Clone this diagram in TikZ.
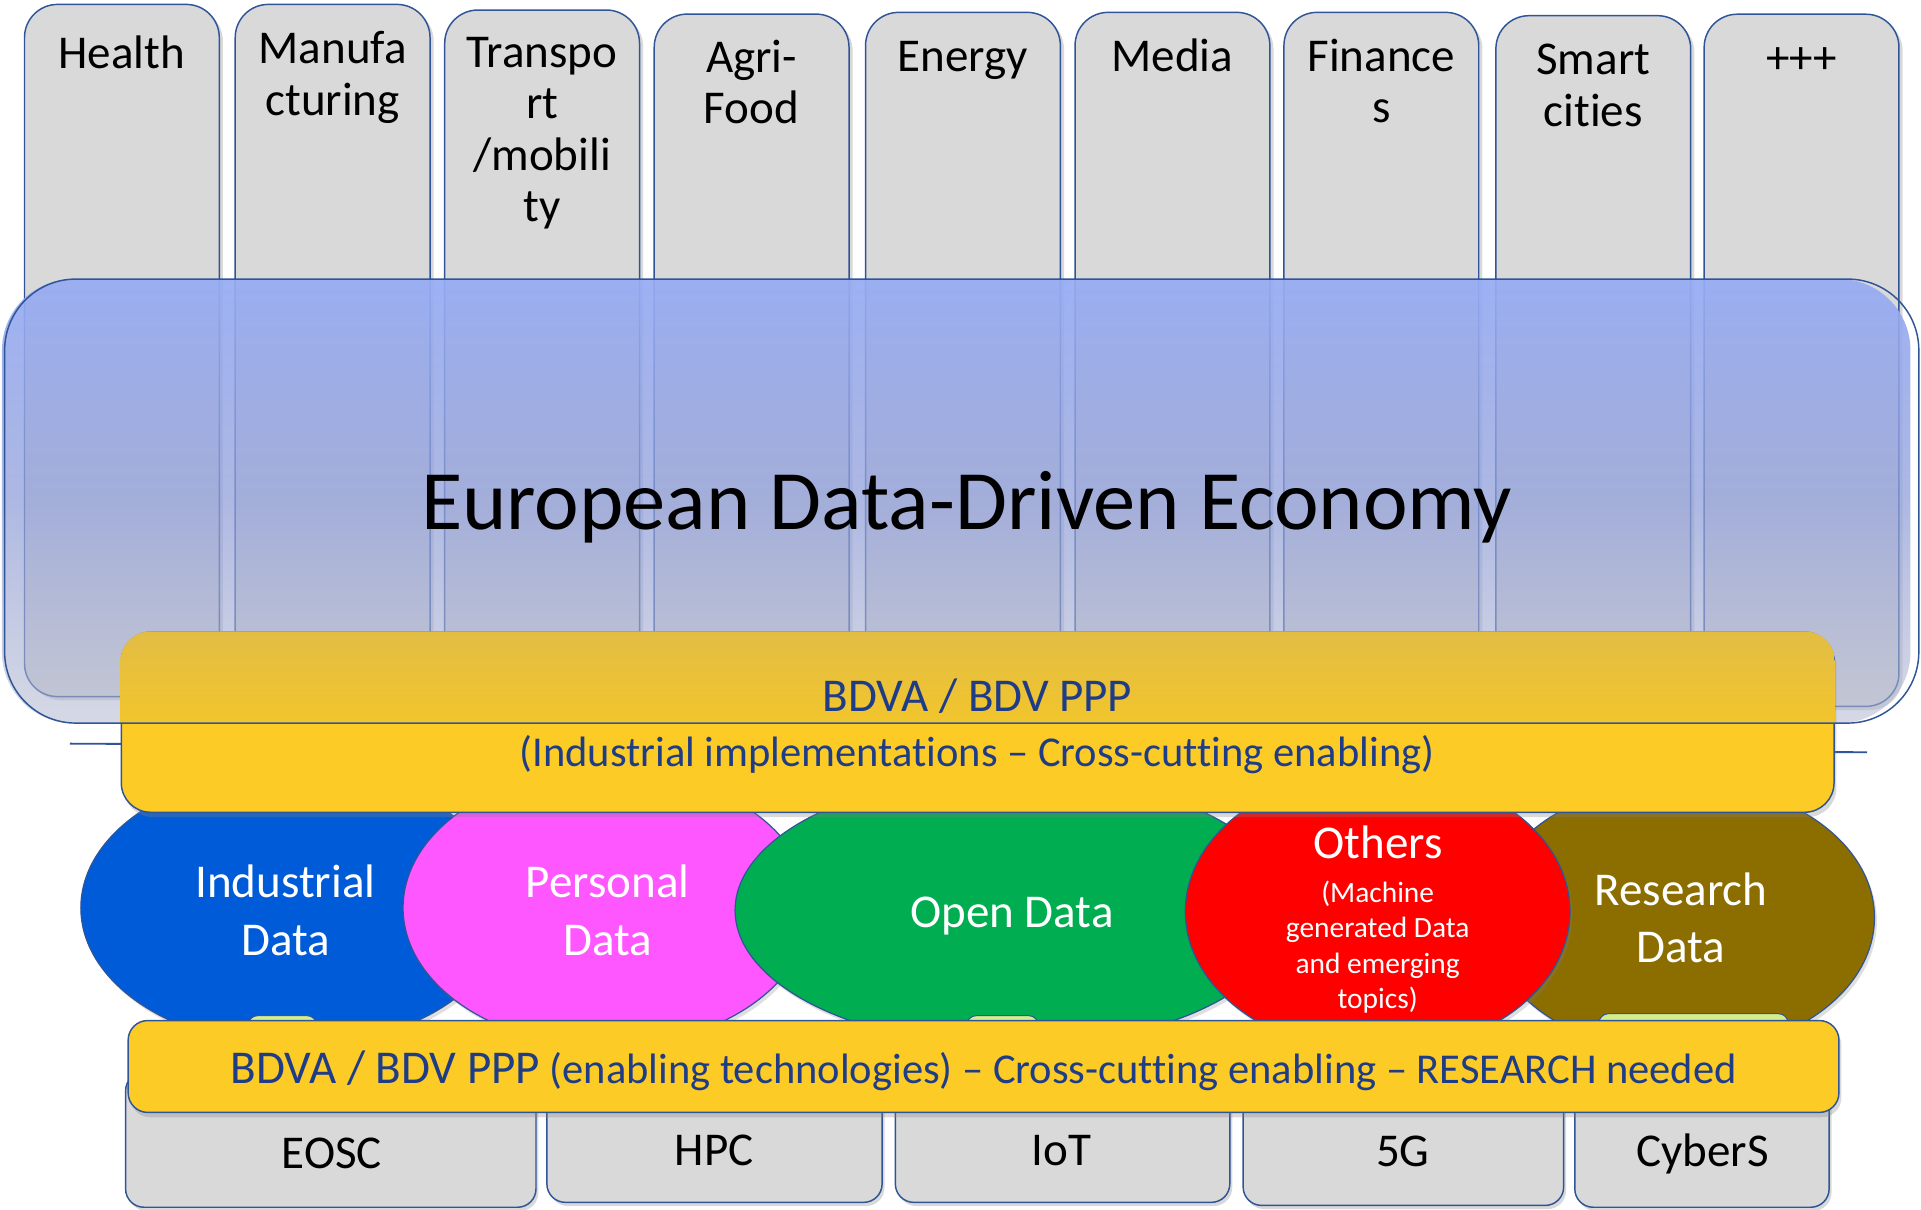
\documentclass[tikz,border=0pt]{standalone}
\usepackage{fontspec}
\setmainfont{Carlito}[Ligatures={TeX,NoCommon}]
\usetikzlibrary{shapes.geometric,shadows,fadings}

\definecolor{edgeblue}{HTML}{2F5597}
\definecolor{sectorgrey}{HTML}{D9D9D9}
\definecolor{ecotop}{HTML}{97ACF3}
\definecolor{ecomid}{HTML}{92A0DA}
\definecolor{ecobot}{HTML}{B4B9CF}
\definecolor{bdvyellow}{HTML}{FCCB26}
\definecolor{bdvtop}{HTML}{E2BD45}
\definecolor{bdvmid}{HTML}{F2C52C}
\definecolor{bdvtext}{HTML}{1F3D87}
\definecolor{industrialblue}{HTML}{005BD9}
\definecolor{personalpink}{HTML}{FF57FF}
\definecolor{opengreen}{HTML}{00AD50}
\definecolor{othersred}{HTML}{FF0000}
\definecolor{researchbrown}{HTML}{8C6D00}
\definecolor{stubgreen}{HTML}{D5EE8C}

\tikzfading[name=ecofade, top color=transparent!5, bottom color=transparent!45]

\begin{document}
\begin{tikzpicture}[x=1pt, y=-1pt,
    sector/.style={draw=edgeblue, line width=1.2pt, fill=sectorgrey, rounded corners=27pt, minimum width=159pt, minimum height=565pt, anchor=north, inner sep=0pt, drop shadow={opacity=0.3, shadow xshift=3pt, shadow yshift=-3pt}},
    sectorlabel/.style={font=\fontsize{38.4}{42}\selectfont, align=center, anchor=base, inner sep=0pt},
    datazone/.style={ellipse, draw=edgeblue, line width=1pt, inner sep=0pt, drop shadow={opacity=0.25, shadow xshift=2pt, shadow yshift=-3pt}},
    zonelabel/.style={text=white, font=\fontsize{38.4}{47}\selectfont, align=center, inner sep=0pt},
    stub/.style={draw=edgeblue, line width=0.8pt, fill=stubgreen, rounded corners=8pt, anchor=north, minimum height=40pt, inner sep=0pt},
    techbox/.style={draw=edgeblue, line width=1.2pt, fill=sectorgrey, rounded corners=15pt, anchor=south, minimum height=110pt, inner sep=0pt, drop shadow={opacity=0.3, shadow xshift=2pt, shadow yshift=-3pt}},
    techlabel/.style={font=\fontsize{38.4}{42}\selectfont, anchor=base, inner sep=0pt},
    bdvbar/.style={draw=edgeblue, line width=1.2pt, fill=bdvyellow, inner sep=0pt, drop shadow={opacity=0.3, shadow xshift=2pt, shadow yshift=-4pt}},
    bdvlabel/.style={text=bdvtext, anchor=base, inner sep=0pt}]

\useasboundingbox (0,0) rectangle (1568,987);

\node[sector] (health) at (99.5,3) {};
\node[sector] (manufacturing) at (271.5,3) {};
\node[sector] (transport) at (442.5,7.6) {};
\node[sector] (agrifood) at (613.5,10.9) {};
\node[sector] (energy) at (786,9.5) {};
\node[sector] (media) at (957,9.5) {};
\node[sector] (finances) at (1127.5,9.5) {};
\node[sector] (smartcities) at (1300.5,12.2) {};
\node[sector] (more) at (1470.5,11) {};

\node[sectorlabel] (healthtxt) at (99.5,56) {Health};
\node[sectorlabel] (manufacturingtxt) at (271.5,94) {Manufa\\cturing};
\node[sectorlabel] (transporttxt) at (442.5,181) {Transpo\\rt\\/mobili\\ty};
\node[sectorlabel] (agrifoodtxt) at (613.5,101) {Agri-\\Food};
\node[sectorlabel] (energytxt) at (786,58) {Energy};
\node[sectorlabel] (mediatxt) at (957,58) {Media};
\node[sectorlabel] (financestxt) at (1127.5,100) {Finance\\s};
\node[sectorlabel] (smartcitiestxt) at (1300.5,103) {Smart\\cities};
\node[sectorlabel] (moretxt) at (1470.5,60) {+++};

\node[minimum width=1562pt, minimum height=362pt, inner sep=0pt] (economy) at (785,409) {};
\shade[rounded corners=58pt, top color=ecotop, bottom color=ecobot, middle color=ecomid, path fading=ecofade] (economy.north west) rectangle (economy.south east);
\node[font=\fontsize{69}{80}\selectfont, anchor=base, inner sep=0pt] (ecotitle) at (789,432) {European Data-Driven Economy};

\coordinate (ruleleft) at (57,607);
\coordinate (ruleright) at (1524,614);
\draw[edgeblue, line width=1.5pt] (ruleleft) -- (ruleright);

\node[datazone, fill=industrialblue, minimum width=348pt, minimum height=226pt] (industrial) at (240,741) {};
\node[datazone, fill=personalpink, minimum width=332pt, minimum height=226pt] (personal) at (495,741) {};
\node[datazone, fill=opengreen, minimum width=452pt, minimum height=222pt] (open) at (826,743) {};
\node[datazone, fill=researchbrown, minimum width=316pt, minimum height=222pt] (research) at (1372,749) {};
\node[datazone, fill=othersred, minimum width=314pt, minimum height=230pt] (others) at (1124.5,744) {};

\node[zonelabel] (industrialtxt) at (233,743) {Industrial\\Data};
\node[zonelabel] (personaltxt) at (496,743) {Personal\\Data};
\node[zonelabel, anchor=base] (opentxt) at (826,757) {Open Data};
\node[zonelabel] (researchtxt) at (1372,749) {Research\\Data};
\node[zonelabel, anchor=base] (otherstxt) at (1125,701) {Others};
\node[zonelabel, font=\fontsize{24}{29}\selectfont] (othersnote) at (1124.5,773) {(Machine\\generated Data\\and emerging\\topics)};

\node[stub, minimum width=56pt] (stubleft) at (230.5,828.6) {};
\node[stub, minimum width=58.5pt] (stubmid) at (818.3,828.6) {};
\node[stub, minimum width=154.6pt] (stubright) at (1382.3,827) {};

\node[techbox, minimum width=335pt] (eosc) at (270,986) {};
\node[techbox, minimum width=273.6pt] (hpc) at (583.2,982) {};
\node[techbox, minimum width=273pt] (iot) at (867.3,982) {};
\node[techbox, minimum width=261.6pt] (fiveg) at (1145.5,984.5) {};
\node[techbox, minimum width=207.6pt] (cybers) at (1389.2,986) {};

\node[techlabel] (eosctxt) at (271,953.5) {EOSC};
\node[techlabel] (hpctxt) at (583,951) {HPC};
\node[techlabel] (iottxt) at (866.5,951) {IoT};
\node[techlabel] (fivegtxt) at (1145,952) {5G};
\node[techlabel] (cyberstxt) at (1389.5,952) {CyberS};

\node[bdvbar, minimum width=1398pt, minimum height=147pt, rounded corners=24pt] (platform) at (798,589.5) {};
\begin{scope}
    \clip[rounded corners=24pt] (platform.north west) rectangle (platform.south east);
    \shade[top color=bdvtop, bottom color=bdvmid] (platform.north west) rectangle (economy.south -| platform.east);
\end{scope}
\draw[edgeblue, line width=1.2pt, rounded corners=58pt] (economy.north west) rectangle (economy.south east);
\node[bdvlabel, font=\fontsize{38.4}{46}\selectfont] (platformtitle) at (798,581) {BDVA / BDV PPP};
\node[bdvlabel, font=\fontsize{34.7}{42}\selectfont] (platformnote) at (797.5,626) {(Industrial implementations – Cross-cutting enabling)};

\node[bdvbar, minimum width=1396.4pt, minimum height=75pt, rounded corners=16pt] (enablers) at (802.8,870.5) {};
\node[bdvlabel, font=\fontsize{34.7}{42}\selectfont] (enablerstxt) at (803,884) {{\fontsize{38.4}{46}\selectfont BDVA / BDV PPP} (enabling technologies) – Cross-cutting enabling – RESEARCH needed};

\end{tikzpicture}
\end{document}
